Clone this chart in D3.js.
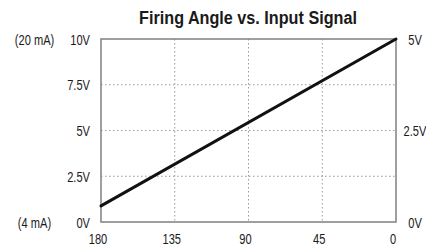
<!DOCTYPE html>
<html><head><meta charset="utf-8">
<script src="https://cdn.jsdelivr.net/npm/d3@7"></script>
<style>
body{margin:0;background:#fff;}
text{font-family:"Liberation Sans",Arial,sans-serif;fill:#1a1a1a;}
</style></head><body>
<svg id="c" width="426" height="247"></svg>
<script>
const title = "Firing Angle vs. Input Signal";
const angleTicks = [180, 135, 90, 45, 0];
const leftTicks = [0, 2.5, 5, 7.5, 10];
const leftTickLabels = ["0V", "2.5V", "5V", "7.5V", "10V"];
const rightTickLabels = ["0V", "2.5V", "5V"];
const rightTickValues = [0, 5, 10];
const currentLabels = ["(4 mA)", "(20 mA)"];
const currentValues = [0, 10];
const lineAngles = [180, 0];
const lineVolts = [0.88, 10];

const svg = d3.select("#c");
const m = {l:101, r:396, t:39, b:222};
const x = d3.scaleLinear().domain([180, 0]).range([m.l, m.r]);
const y = d3.scaleLinear().domain([0, 10]).range([m.b, m.t]);
const SX = 0.74;

function label(g, px, py, txt, anchor, size, weight, sx){
  return g.append("text")
    .attr("transform", `translate(${px},${py}) scale(${sx},1)`)
    .attr("text-anchor", anchor).style("font-size", size)
    .style("font-weight", weight || "normal").text(txt);
}

const tg = svg.append("g");
const tt = label(tg, 248, 24, title, "middle", "19px", "bold", 1);
const w = tt.node().getComputedTextLength();
tt.attr("transform", `translate(248,24) scale(${218/w},1)`);

// grid
svg.append("g").selectAll("line").data(angleTicks.filter(d=>d!==180&&d!==0)).join("line")
  .attr("x1",d=>x(d)).attr("x2",d=>x(d)).attr("y1",m.t).attr("y2",m.b)
  .attr("stroke","#999").attr("stroke-width",1).attr("stroke-dasharray","1.5,2.5");
svg.append("g").selectAll("line").data(leftTicks.filter(d=>d!==0&&d!==10)).join("line")
  .attr("x1",m.l).attr("x2",m.r).attr("y1",d=>y(d)).attr("y2",d=>y(d))
  .attr("stroke","#999").attr("stroke-width",1).attr("stroke-dasharray","1.5,2.5");

// frame
svg.append("rect").attr("x",m.l).attr("y",m.t).attr("width",m.r-m.l).attr("height",m.b-m.t)
  .attr("fill","none").attr("stroke","#888").attr("stroke-width",1.6);

// line
svg.append("path").datum(lineAngles.map((a,i)=>[a,lineVolts[i]]))
  .attr("d", d3.line().x(d=>x(d[0])).y(d=>y(d[1])))
  .attr("stroke","#111").attr("stroke-width",3).attr("fill","none").attr("stroke-linecap","round");

const fs = "15px";
const g = svg.append("g");
leftTicks.forEach((d,i)=>label(g, 90, y(d)+5.5, leftTickLabels[i], "end", fs, "normal", SX));
rightTickValues.forEach((d,i)=>label(g, 415, y(d)+5.5, rightTickLabels[i], "middle", fs, "normal", SX));
currentValues.forEach((d,i)=>label(g, 34.5, y(d)+5.5, currentLabels[i], "middle", fs, "normal", SX));
angleTicks.forEach(d=>label(g, x(d)-3, 243.5, String(d), "middle", fs, "normal", SX));
</script></body></html>
